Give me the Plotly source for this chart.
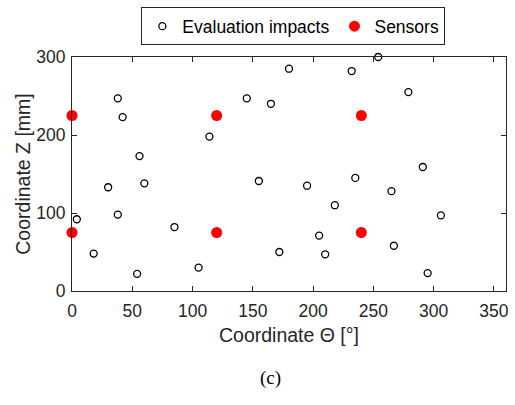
import plotly.graph_objects as go

# Evaluation impacts (theta in degrees, Z in mm)
impact_theta = [4, 18, 38, 42, 30, 38, 56, 60, 54, 85, 105, 114, 145, 155,
                165, 180, 232, 254, 279, 291, 195, 235, 265, 218, 306, 205,
                172, 210, 267, 295]
impact_z = [92, 48, 247, 223, 133, 98, 173, 138, 22, 82, 30, 198, 247, 141,
            240, 285, 282, 300, 255, 159, 135, 145, 128, 110, 97, 71,
            50, 47, 58, 23]

# Sensors
sensor_theta = [0, 0, 120, 120, 240, 240]
sensor_z = [75, 225, 75, 225, 75, 225]

x_ticks = [0, 50, 100, 150, 200, 250, 300, 350]
y_ticks = [0, 100, 200, 300]

FONT = "Liberation Sans, Arial, sans-serif"
AX = "#262626"

fig = go.Figure()
fig.add_trace(go.Scatter(
    x=impact_theta, y=impact_z, mode="markers", name="Evaluation impacts",
    marker=dict(symbol="circle-open", size=7, color="black", line=dict(width=1.3)),
    cliponaxis=False,
))
fig.add_trace(go.Scatter(
    x=sensor_theta, y=sensor_z, mode="markers", name="Sensors",
    marker=dict(symbol="circle", size=11, color="#ff0000", line=dict(width=0)),
    cliponaxis=False,
))

axis_common = dict(
    showline=True, linecolor=AX, linewidth=1, mirror="ticks",
    ticks="inside", ticklen=5, tickcolor=AX, tickwidth=1,
    showgrid=False, zeroline=False,
    tickfont=dict(family=FONT, size=17.5, color=AX),
)
fig.update_xaxes(range=[0, 360], tickvals=x_ticks, ticklabelstandoff=4,
                 title=dict(text="Coordinate Θ [°]", font=dict(family=FONT, size=19.5, color=AX), standoff=8),
                 **axis_common)
fig.update_yaxes(range=[0, 300], tickvals=y_ticks, ticklabelstandoff=2,
                 title=dict(text="Coordinate Z [mm]", font=dict(family=FONT, size=19.5, color=AX), standoff=0),
                 **axis_common)

fig.add_annotation(text="(c)", xref="paper", yref="paper", x=0.4585, y=-0.372,
                   xanchor="center", yanchor="middle", showarrow=False,
                   font=dict(family="Liberation Serif, Times New Roman, serif", size=19, color="black"))

fig.update_layout(
    width=515, height=405,
    margin=dict(l=72, r=9, t=57, b=114, autoexpand=False),
    plot_bgcolor="white", paper_bgcolor="white",
    showlegend=True,
    legend=dict(orientation="h", x=0.51, xanchor="center", y=1.05, yanchor="bottom",
                bordercolor=AX, borderwidth=1, bgcolor="white",
                font=dict(family=FONT, size=17.5, color="black"),
                itemwidth=30, tracegroupgap=0),
)

fig.write_html("out.html")
